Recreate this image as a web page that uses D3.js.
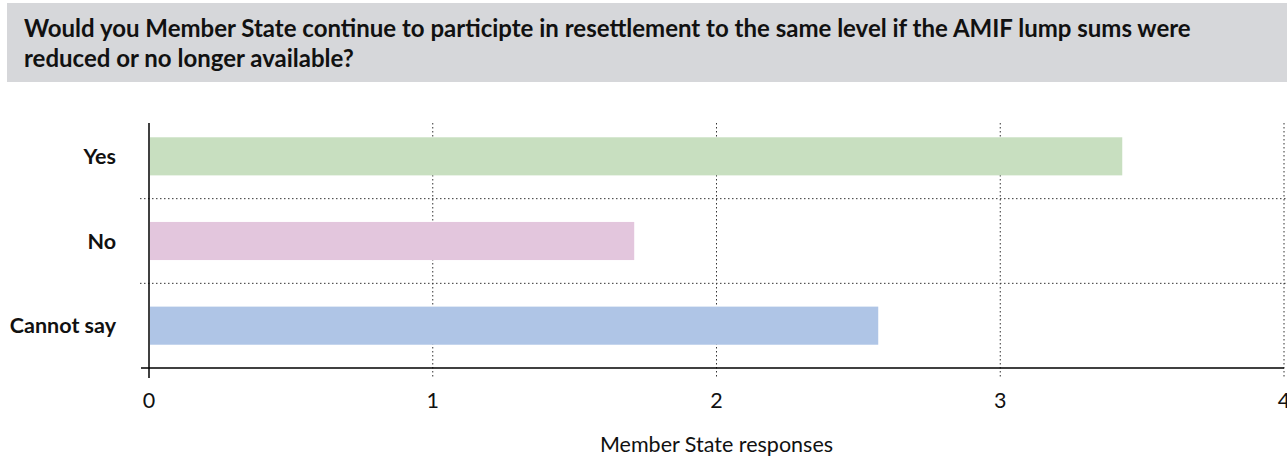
<!DOCTYPE html>
<html>
<head>
<meta charset="utf-8">
<script src="https://cdn.jsdelivr.net/npm/d3@7"></script>
<style>
  html, body { margin: 0; padding: 0; background: #fff; }
  svg { display: block; font-family: Lato, "Noto Sans", sans-serif; }
</style>
</head>
<body>
<svg id="chart" width="1287" height="457"></svg>
<script>
// Survey answers and their counts (average Member State responses)
const categories = ["Yes", "No", "Cannot say"];
const values = [3.43, 1.71, 2.57];
const barColors = ["#c8dfc0", "#e3c6dd", "#afc5e6"];
const xTicks = [0, 1, 2, 3, 4];
const titleLines = [
  "Would you Member State continue to participte in resettlement to the same level if the AMIF lump sums were",
  "reduced or no longer available?"
];
const xAxisTitle = "Member State responses";

const W = 1287, H = 457;
const svg = d3.select("#chart");

// Title banner
svg.append("rect")
  .attr("x", 7).attr("y", 3)
  .attr("width", W - 7).attr("height", 79)
  .attr("fill", "#d6d7da");

svg.append("g")
  .selectAll("text")
  .data(titleLines)
  .join("text")
  .attr("x", 24)
  .attr("y", (d, i) => 37 + i * 30)
  .attr("font-size", 24)
  .attr("font-weight", 700)
  .attr("fill", "#111")
  .text(d => d);

// Plot geometry
const left = 149, right = 1284;
const bandTop = 114, bandBottom = 368;
const gridTop = 123, gridBottom = 378;

const x = d3.scaleLinear().domain([0, 4]).range([left, right]);
const y = d3.scaleBand().domain(categories).range([bandTop, bandBottom]).paddingInner(0.55).paddingOuter(0.275);

// Band dividers (dotted)
const dividers = categories.slice(1).map(c => y(c) - y.step() * y.paddingInner() / 2);
svg.append("g")
  .selectAll("line")
  .data(dividers)
  .join("line")
  .attr("x1", left - 9).attr("x2", right + 2)
  .attr("y1", d => d).attr("y2", d => d)
  .attr("stroke", "#333").attr("stroke-width", 1)
  .attr("stroke-dasharray", "1.5,2.5");

// Vertical grid (dotted), skipping the zero line
svg.append("g")
  .selectAll("line")
  .data(xTicks.filter(t => t !== 0))
  .join("line")
  .attr("x1", d => x(d)).attr("x2", d => x(d))
  .attr("y1", gridTop).attr("y2", gridBottom)
  .attr("stroke", "#333").attr("stroke-width", 1)
  .attr("stroke-dasharray", "1.5,2.5");

// Bars
svg.append("g")
  .selectAll("rect")
  .data(categories)
  .join("rect")
  .attr("x", x(0) + 1)
  .attr("y", d => y(d))
  .attr("width", (d, i) => x(values[i]) - x(0) - 1)
  .attr("height", y.bandwidth())
  .attr("fill", (d, i) => barColors[i]);

// Axis lines
svg.append("line")
  .attr("x1", left).attr("x2", left)
  .attr("y1", gridTop).attr("y2", gridBottom)
  .attr("stroke", "#000").attr("stroke-width", 1.5);
svg.append("line")
  .attr("x1", left - 8).attr("x2", right)
  .attr("y1", bandBottom).attr("y2", bandBottom)
  .attr("stroke", "#000").attr("stroke-width", 1.5);

// Category labels
svg.append("g")
  .selectAll("text")
  .data(categories)
  .join("text")
  .attr("x", 116)
  .attr("y", d => y(d) + y.bandwidth() / 2)
  .attr("dy", "0.35em")
  .attr("text-anchor", "end")
  .attr("font-size", 21.5)
  .attr("font-weight", 700)
  .attr("fill", "#111")
  .text(d => d);

// Tick labels
svg.append("g")
  .selectAll("text")
  .data(xTicks)
  .join("text")
  .attr("x", d => x(d))
  .attr("y", 408)
  .attr("text-anchor", "middle")
  .attr("font-size", 21.5)
  .attr("fill", "#111")
  .text(d => d);

// Axis title
svg.append("text")
  .attr("x", (left + right) / 2)
  .attr("y", 452)
  .attr("text-anchor", "middle")
  .attr("font-size", 21.5)
  .attr("fill", "#111")
  .text(xAxisTitle);
</script>
</body>
</html>
